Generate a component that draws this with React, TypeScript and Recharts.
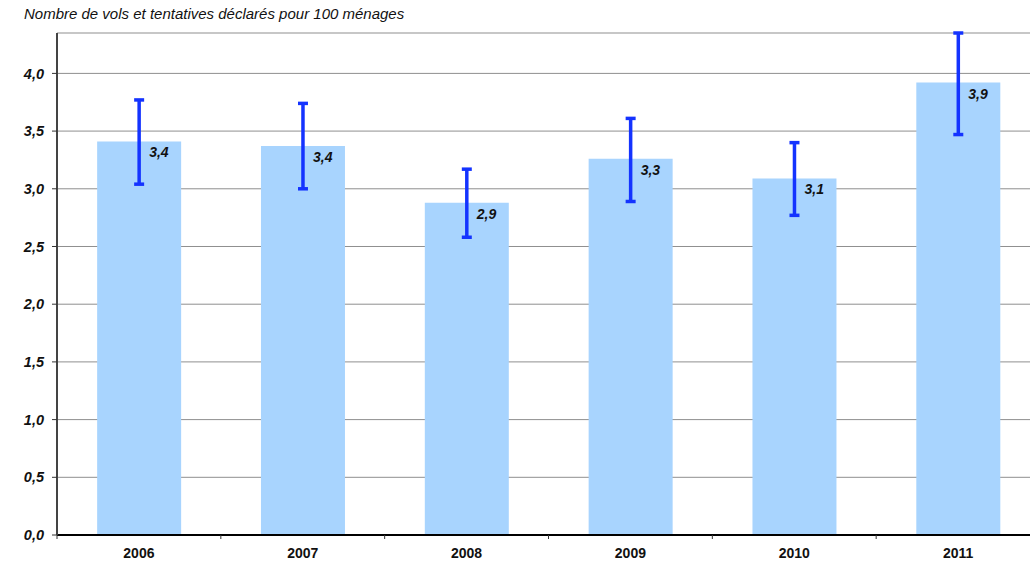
import { BarChart, Bar, XAxis, YAxis, CartesianGrid, ErrorBar, LabelList } from "recharts";

const years = ["2006", "2007", "2008", "2009", "2010", "2011"];
const rates = [3.41, 3.37, 2.88, 3.26, 3.09, 3.92];
const lowBounds = [3.04, 3.0, 2.58, 2.89, 2.77, 3.47];
const highBounds = [3.77, 3.74, 3.17, 3.61, 3.4, 4.35];
const yTicks = [0, 0.5, 1, 1.5, 2, 2.5, 3, 3.5, 4];

const data = years.map((year, i) => ({
  year,
  rate: rates[i],
  err: [rates[i] - lowBounds[i], highBounds[i] - rates[i]],
}));

const CHART_W = 1040;
const CHART_H = 563;
const LEFT = 57;
const band = (CHART_W - LEFT) / years.length;

const comma = (v: number) => v.toFixed(1).replace(".", ",");

const XTick = (props: any) => {
  const { x, y, payload, index } = props;
  return (
    <g>
      <text x={x} y={y + 23} textAnchor="middle" fontSize={14} fontWeight="bold" fill="#111">
        {payload.value}
      </text>
      {index === 0 && <line x1={x - band / 2} x2={x - band / 2} y1={y} y2={y + 4} stroke="#333" />}
      <line x1={x + band / 2} x2={x + band / 2} y1={y} y2={y + 4} stroke="#333" />
    </g>
  );
};

const ValueLabel = (props: any) => {
  const { x, y, width, value } = props;
  return (
    <text
      x={x + width / 2 + 10}
      y={y + 16}
      fontSize={14}
      fontWeight="bold"
      fontStyle="italic"
      fill="#111"
    >
      {comma(value)}
    </text>
  );
};

export default function App() {
  return (
    <div
      style={{
        position: "absolute",
        left: 0,
        top: 0,
        width: 1030,
        height: 563,
        overflow: "hidden",
        background: "#fff",
        fontFamily: "'Liberation Sans', Arial, sans-serif",
      }}
    >
      <div
        style={{
          position: "absolute",
          left: 24,
          top: 6,
          fontSize: 15,
          fontStyle: "italic",
          color: "#111",
          lineHeight: "16px",
          whiteSpace: "nowrap",
        }}
      >
        Nombre de vols et tentatives déclarés pour 100 ménages
      </div>
      <BarChart
        width={CHART_W}
        height={CHART_H}
        data={data}
        margin={{ top: 33, right: 0, bottom: 0, left: 0 }}
        barCategoryGap="24.5%"
      >
        <CartesianGrid vertical={false} stroke="#8f8f8f" />
        <XAxis
          dataKey="year"
          height={28}
          tickLine={false}
          tickSize={0}
          tickMargin={0}
          axisLine={{ stroke: "#000", strokeWidth: 2 }}
          tick={<XTick />}
          interval={0}
        />
        <YAxis
          width={LEFT}
          domain={[0, 4.35]}
          ticks={yTicks}
          tickSize={5}
          tickMargin={8}
          tickLine={{ stroke: "#333" }}
          axisLine={{ stroke: "#444", strokeWidth: 2 }}
          tickFormatter={comma}
          tick={{ fill: "#111", fontSize: 14.5, fontWeight: "bold", fontStyle: "italic" }}
          allowDataOverflow
        />
        <Bar dataKey="rate" fill="#A8D4FE" isAnimationActive={false}>
          <ErrorBar dataKey="err" direction="y" width={5} strokeWidth={3.5} stroke="#1433FF" />
          <LabelList dataKey="rate" content={<ValueLabel />} />
        </Bar>
      </BarChart>
    </div>
  );
}
